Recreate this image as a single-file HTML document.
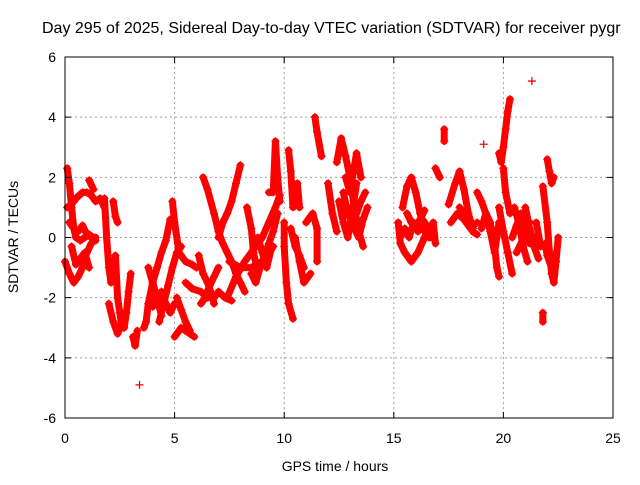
<!DOCTYPE html>
<html><head><meta charset="utf-8"><style>
body{margin:0;background:#fff;}
svg text{font-family:"Liberation Sans",sans-serif;font-size:14px;fill:#000;}
</style></head><body>
<svg id="chart" width="640" height="480" viewBox="0 0 640 480" xmlns="http://www.w3.org/2000/svg">
<rect width="640" height="480" fill="#fff"/>
<text x="42" y="33" style="font-size:16px">Day 295 of 2025, Sidereal Day-to-day VTEC variation (SDTVAR) for receiver pygr</text>
<g id="grid"></g>
<g id="marks"></g>
<rect x="65" y="57" width="548" height="361" fill="none" stroke="#000" stroke-width="1"/>
<g id="ticks"></g>
<text x="335" y="471" text-anchor="middle">GPS time / hours</text>
<text transform="translate(18,237) rotate(-90)" text-anchor="middle">SDTVAR / TECUs</text>
</svg>
<script>
const xTicks=[0,5,10,15,20,25];
const yTicks=[-6,-4,-2,0,2,4,6];
const trackTimes=[
[0.1,0.2,0.3,0.4,0.5,0.7,0.9,1.1,1.3],
[0.0,0.2,0.4,0.6,0.8,1.0,1.2,1.4],
[0.1,0.3,0.5,0.8,1.0,1.2,1.4,1.6,1.8],
[1.1,1.3],
[1.8,1.9,2.0,2.1],
[2.2,2.3,2.4],
[2.2,2.3,2.4,2.5,2.6,2.7,2.8,2.9,3.0],
[3.1,3.2,3.3],
[3.6,3.7,3.8,4.0,4.2,4.4,4.6,4.8],
[4.3,4.5,4.7,4.9,5.1,5.3],
[3.4],
[5.0,5.3,5.5,5.7,5.9],
[4.9,5.0,5.2,5.5,5.8,6.0],
[5.5,5.8,6.2,6.5,6.8,7.0,7.3,7.6],
[6.3,6.5,6.8,7.0,7.2,7.4,7.6,7.8,8.0,8.2],
[7.0,7.2,7.4,7.6,7.8,8.0],
[6.1,6.3,6.5,6.7,6.8],
[7.5,8.0,8.5,9.0,9.5],
[7.4,7.8,8.2,8.6,9.0,9.3,9.6,9.8],
[8.3,8.5,8.6,8.8],
[9.3,9.5,9.6,9.7,9.8],
[10.0,10.0,10.1,10.2,10.4],
[10.2,10.3,10.4,10.6,10.7],
[10.5,10.7,10.9,11.2],
[11.4,11.5,11.7],
[11.0,11.3,11.5,11.5],
[12.0,12.2,12.4],
[12.4,12.6,12.8,13.0,13.2,13.4,13.6],
[12.7,12.9,13.1,13.3,13.5,13.7],
[12.8,13.0,13.3,13.5],
[15.2,15.3,15.5,15.8,16.1,16.4,16.6],
[15.4,15.6,15.8,16.0,16.2,16.4,16.6,16.8,16.9],
[16.9,17.1],
[17.3,17.3],
[17.5,17.8,18.0,18.2,18.4,18.6],
[18.0,18.3,18.6,18.8],
[18.8,19.0,19.2,19.4,19.6,19.7,19.8],
[19.1],
[19.8,19.9,20.0,20.1,20.2,20.3],
[20.0,20.1,20.3,20.5,20.7,20.9,21.1],
[19.8,20.0,20.2,20.4],
[21.3],
[21.0,21.2,21.4,21.6],
[22.0,22.1,22.2,22.3],
[21.8,22.0,22.1,22.2,22.3,22.4,22.5],
[21.8,21.8],
[21.5,21.7],
[0.2,0.4,0.6,0.8,1.0,1.2,1.4],
[0.3,0.5,0.7,0.9,1.1],
[2.0,2.2,2.4,2.6],
[4.0,4.2,4.4,4.6,4.8,5.0],
[3.8,4.0,4.2,4.4],
[5.1,5.3,5.5,5.7],
[6.2,6.4,6.6,6.8,7.0],
[8.5,8.7,8.9,9.1,9.3,9.5,9.7],
[8.8,9.0,9.2,9.4],
[10.3,10.5,10.7,10.9],
[12.5,12.7,12.9,13.1,13.3],
[13.0,13.2,13.4,13.6,13.8],
[15.3,15.5,15.7,15.9,16.1,16.3,16.5,16.7],
[15.6,15.8,16.0,16.2,16.4],
[17.6,17.9,18.2,18.5,18.8],
[19.0,19.2,19.4,19.6,19.8],
[20.4,20.6,20.8,21.0,21.2,21.4],
[20.6,20.8,21.0,21.2],
[21.9,22.0,22.2,22.4]
];
const trackValues=[
[2.3,1.8,1.0,0.3,0.0,-0.1,0.0,0.1,0.0],
[-0.8,-1.2,-1.5,-1.3,-1.0,-0.5,-0.2,0.0],
[1.0,1.1,1.3,1.5,1.5,1.4,1.2,1.3,1.0],
[1.9,1.6],
[1.3,0.0,-1.0,-1.5],
[1.2,0.7,0.5],
[-1.2,-0.6,-2.0,-2.5,-3.0,-3.0,-2.5,-1.8,-1.2],
[-3.3,-3.6,-3.1],
[-3.0,-2.8,-2.2,-1.5,-1.0,-0.5,-0.1,0.6],
[-2.8,-2.2,-1.6,-1.0,-0.5,-0.3],
[-4.9],
[-3.3,-3.0,-3.1,-3.2,-3.3],
[1.2,0.5,-0.5,-0.8,-0.9,-1.0],
[-1.5,-1.7,-1.8,-2.0,-2.0,-1.8,-2.0,-2.1],
[2.0,1.6,0.8,0.2,-0.2,-0.5,-0.8,-1.2,-1.5,-1.8],
[0.0,0.5,0.8,1.2,1.8,2.4],
[-0.6,-1.2,-1.5,-1.9,-2.2],
[-0.8,-1.0,-1.0,-0.8,-0.3],
[-2.0,-1.3,-0.8,-0.4,0.0,0.5,1.0,1.4],
[1.0,0.3,-0.5,-1.2],
[1.5,1.5,3.2,2.0,1.2],
[0.5,-0.3,-1.5,-2.2,-2.7],
[2.9,2.2,1.0,1.8,1.0],
[0.0,-0.8,-1.5,-1.2],
[4.0,3.5,2.7],
[0.5,0.8,0.3,-0.8],
[1.8,0.8,0.2],
[2.5,3.3,2.7,2.0,1.0,0.2,-0.3],
[1.5,0.8,0.5,0.8,1.2,1.5],
[2.0,1.5,2.8,2.0],
[0.5,-0.2,-0.5,-0.8,-0.5,0.0,0.3],
[1.0,1.7,2.0,1.5,0.8,0.2,0.0,0.5,-0.2],
[2.3,2.0],
[3.6,3.2],
[1.1,1.8,2.2,1.6,0.8,0.3],
[1.0,0.6,0.2,0.1],
[1.5,1.2,0.8,0.5,-0.3,-1.0,-1.3],
[3.1],
[2.8,2.5,3.0,3.6,4.2,4.6],
[2.3,1.5,0.8,1.0,0.5,-0.3,-0.8],
[1.0,0.2,-0.5,-1.2],
[5.2],
[1.0,0.3,-0.3,-0.7],
[2.6,2.2,1.8,2.0],
[1.7,0.5,-0.5,-1.2,-1.5,-0.8,0.0],
[-2.5,-2.8],
[0.5,-0.3],
[0.5,0.3,0.2,0.4,0.1,0.0,-0.1],
[-0.3,-0.9,-0.7,-0.5,-1.0],
[-2.2,-2.8,-3.2,-2.8],
[-2.3,-2.0,-1.8,-2.2,-2.5,-2.2],
[-1.0,-1.5,-2.0,-2.6],
[-2.0,-2.4,-2.8,-3.1],
[-2.2,-2.0,-1.6,-1.3,-1.0],
[-1.2,-1.5,-1.0,-0.6,-0.2,0.2,0.8],
[0.0,-0.5,-1.0,-0.4],
[0.3,-0.3,-0.6,-1.0],
[1.2,0.5,0.0,0.8,1.8],
[0.8,0.3,0.0,0.6,1.0],
[0.0,0.3,0.0,0.5,0.2,0.6,0.4,0.0],
[0.8,0.5,0.3,0.6,0.9],
[0.5,0.8,0.6,0.3,0.5],
[0.3,0.8,0.2,-0.5,0.5],
[0.0,0.4,0.8,0.3,-0.2,0.0],
[-0.5,-0.2,0.2,0.5],
[-0.2,-0.6,-1.0,-0.5]
];
const NS='http://www.w3.org/2000/svg';
const X0=65,X1=613,Y0=418,Y1=57;
function xs(t){return X0+(t-0)/(25-0)*(X1-X0);}
function ys(v){return Y0-(v+6)/12*(Y0-Y1);}
const grid=document.getElementById('grid');
const ticks=document.getElementById('ticks');
const marks=document.getElementById('marks');
xTicks.forEach(t=>{
  const x=xs(t);
  if(t>0&&t<25){
    const l=document.createElementNS(NS,'line');
    
    
    l.setAttribute('x1',x);l.setAttribute('x2',x);l.setAttribute('y1',Y1);l.setAttribute('y2',Y0);
    l.setAttribute('stroke','#a0a0a0');l.setAttribute('stroke-dasharray','2,3');
    grid.appendChild(l);
  }
  const tk=document.createElementNS(NS,'path');
  
  
  tk.setAttribute('d',`M${x},${Y0}v-6M${x},${Y1}v6`);tk.setAttribute('stroke','#000');
  ticks.appendChild(tk);
  const tx=document.createElementNS(NS,'text');
  
  
  tx.setAttribute('x',x);tx.setAttribute('y',Y0+25);tx.setAttribute('text-anchor','middle');
  tx.textContent=t;ticks.appendChild(tx);
});
yTicks.forEach(v=>{
  const y=ys(v);
  if(v>-6&&v<6){
    const l=document.createElementNS(NS,'line');
    
    
    l.setAttribute('x1',X0);l.setAttribute('x2',X1);l.setAttribute('y1',y);l.setAttribute('y2',y);
    l.setAttribute('stroke','#a0a0a0');l.setAttribute('stroke-dasharray','2,3');
    grid.appendChild(l);
  }
  const tk=document.createElementNS(NS,'path');
  
  
  tk.setAttribute('d',`M${X0},${y}h6M${X1},${y}h-6`);tk.setAttribute('stroke','#000');
  ticks.appendChild(tk);
  const tx=document.createElementNS(NS,'text');
  
  
  tx.setAttribute('x',X0-9);tx.setAttribute('y',y+5);tx.setAttribute('text-anchor','end');
  tx.textContent=v;ticks.appendChild(tx);
});
trackTimes.forEach((ts,i)=>{
  const vs=trackValues[i];
  if(ts.length>1){
    const pl=document.createElementNS(NS,'polyline');
    
    
    pl.setAttribute('points',ts.map((t,j)=>xs(t)+','+ys(vs[j])).join(' '));
    pl.setAttribute('fill','none');pl.setAttribute('stroke','#ff0000');
    pl.setAttribute('stroke-width','7');pl.setAttribute('stroke-linejoin','round');pl.setAttribute('stroke-linecap','round');
    marks.appendChild(pl);
  }
  ts.forEach((t,j)=>{
    const x=xs(t),y=ys(vs[j]);
    const p=document.createElementNS(NS,'path');
    
    
    p.setAttribute('d',`M${x-4},${y}h8M${x},${y-4}v8`);
    p.setAttribute('stroke','#ff0000');p.setAttribute('stroke-width','1.3');
    marks.appendChild(p);
  });
});
</script>
</body></html>
